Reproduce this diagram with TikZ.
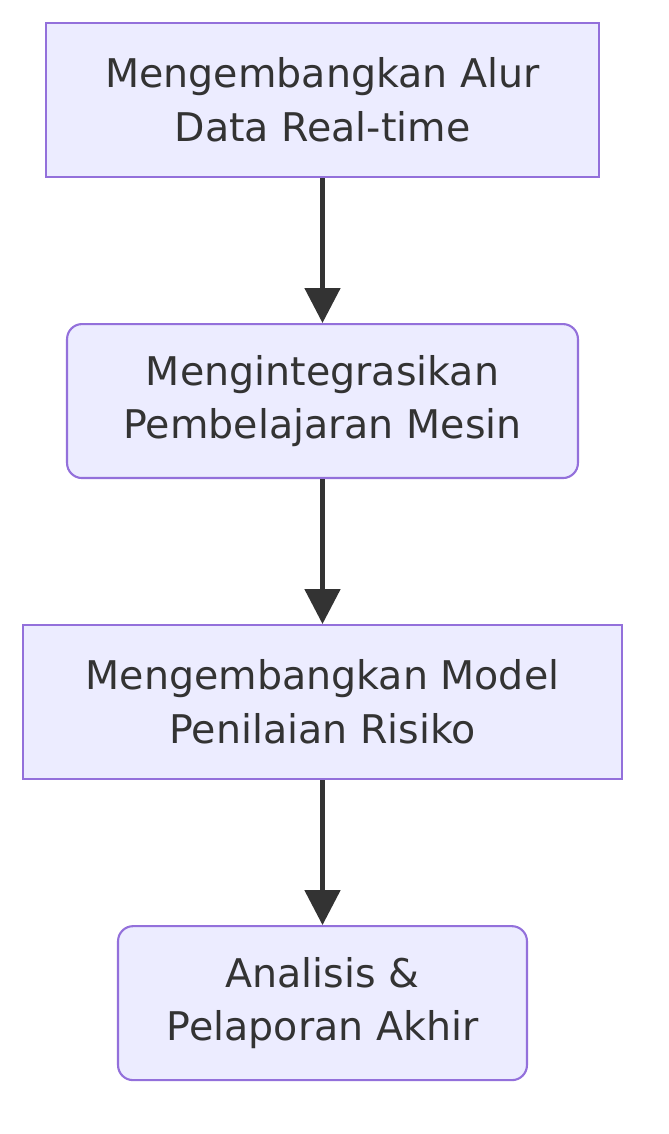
\documentclass[tikz,border=0pt]{standalone}
\usepackage{fontspec}
\setmainfont{DejaVu Sans}
\usetikzlibrary{positioning, arrows.meta}
\definecolor{boxfill}{HTML}{ECECFF}
\definecolor{boxline}{HTML}{9370DB}
\definecolor{ink}{HTML}{333333}
\begin{document}
\begin{tikzpicture}[x=0.02cm, y=-0.02cm]

\tikzstyle{stagebox}=[draw=boxline, fill=boxfill, line width=1.2pt, text=ink, align=center, minimum height=3.08cm, inner sep=0pt, font=\fontsize{22.5}{30.6}\selectfont]
\tikzstyle{stageboxr}=[stagebox, rounded corners=0.3cm]
\tikzstyle{flow}=[draw=ink, line width=2.8pt, -{Triangle[length=0.7cm, width=0.7cm]}]

\useasboundingbox (0,0) rectangle (669,1134);

\node (s1) at (322.5,100) [stagebox, minimum width=11.06cm] {Mengembangkan Alur\\Data Real-time};
\node (s2) [stageboxr, minimum width=10.22cm, below=2.9cm of s1] {Mengintegrasikan\\Pembelajaran Mesin};
\node (s3) [stagebox, minimum width=11.98cm, below=2.9cm of s2] {Mengembangkan Model\\Penilaian Risiko};
\node (s4) [stageboxr, minimum width=8.18cm, below=2.9cm of s3] {Analisis \&\\Pelaporan Akhir};

\draw [flow] (s1) -- (s2);
\draw [flow] (s2) -- (s3);
\draw [flow] (s3) -- (s4);

\end{tikzpicture}
\end{document}
